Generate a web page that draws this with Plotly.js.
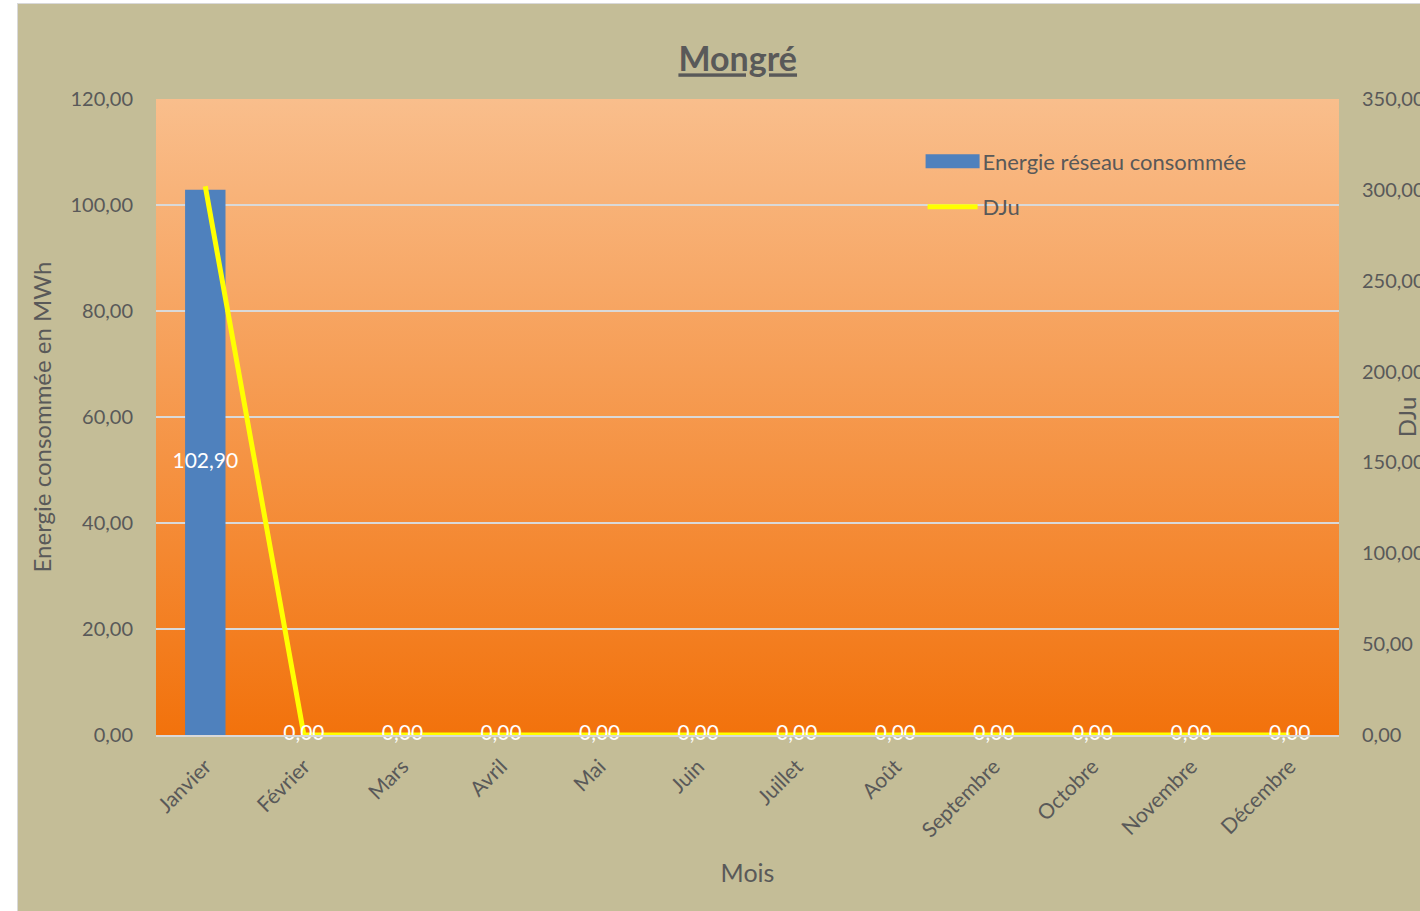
<!DOCTYPE html>
<html>
<head>
<meta charset="utf-8">
<script src="https://cdn.plot.ly/plotly-3.0.1.min.js"></script>
<style>
html,body{margin:0;padding:0;background:#ffffff;width:1420px;height:911px;overflow:hidden;}
#wrap{position:absolute;left:17px;top:3px;width:1403px;height:908px;border-left:1px solid #d9d9d9;border-top:1px solid #d9d9d9;}
#chart{width:1403px;height:908px;}
</style>
</head>
<body>
<div id="wrap"><div id="chart"></div></div>
<script>
const months = ['Janvier','Février','Mars','Avril','Mai','Juin','Juillet','Août','Septembre','Octobre','Novembre','Décembre'];
const energie = [102.90,0,0,0,0,0,0,0,0,0,0,0];
const dju = [302,0,0,0,0,0,0,0,0,0,0,0];
const energieName = 'Energie réseau consommée';
const djuName = 'DJu';

const gradSvg = '<svg xmlns="http://www.w3.org/2000/svg" width="100" height="100" preserveAspectRatio="none">' +
  '<defs><linearGradient id="g" x1="0" y1="0" x2="0" y2="1">' +
  '<stop offset="0" stop-color="#F9BE8C"/><stop offset="1" stop-color="#F2720C"/>' +
  '</linearGradient></defs><rect width="100" height="100" fill="url(#g)"/></svg>';
const gradUri = 'data:image/svg+xml;base64,' + btoa(gradSvg);

const grey = '#595959';
const font = 'Lato, "Open Sans", sans-serif';

const traces = [
  {
    type: 'bar', name: energieName, x: months, y: energie, legendgroup: 'a',
    marker: {color: '#4F81BD'}, xaxis: 'x', yaxis: 'y', hoverinfo: 'skip'
  },
  {
    type: 'scatter', mode: 'lines', name: djuName, x: months, y: dju, legendgroup: 'b',
    line: {color: '#FFFF00', width: 5}, xaxis: 'x', yaxis: 'y2', hoverinfo: 'skip'
  },
  {
    type: 'scatter', mode: 'text', showlegend: false, x: months,
    y: energie.map(v => v / 2), text: energie.map(v => v.toFixed(2).replace('.', ',')),
    textposition: 'middle center', textfont: {color: '#ffffff', size: 21, family: font},
    xaxis: 'x', yaxis: 'y3', hoverinfo: 'skip', cliponaxis: false
  }
];

const layout = {
  width: 1403, height: 908,
  paper_bgcolor: '#C4BD97',
  plot_bgcolor: 'rgba(0,0,0,0)',
  separators: ',.',
  margin: {l: 138, r: 82, t: 95, b: 177},
  bargap: 0.59,
  showlegend: true,
  font: {family: font, color: grey},
  title: {text: '<b><u>Mongré</u></b>', x: 0.513, xanchor: 'center', y: 0.952, yanchor: 'top',
          font: {size: 34, color: grey, family: font}},
  images: [{source: gradUri, xref: 'paper', yref: 'paper', x: 0, y: 1, sizex: 1, sizey: 1,
            xanchor: 'left', yanchor: 'top', sizing: 'stretch', layer: 'below'}],
  xaxis: {
    type: 'category', range: [-0.5, 11.5], autorange: false, tickangle: -45,
    tickfont: {size: 21, color: grey, family: font},
    showgrid: false, showline: true, linecolor: '#d9d9d9', linewidth: 2,
    ticks: 'outside', ticklen: 9, tickcolor: 'rgba(0,0,0,0)',
    title: {text: 'Mois', font: {size: 25, color: grey, family: font}, standoff: 24}
  },
  yaxis: {
    range: [0, 120], dtick: 20, tickformat: '.2f',
    tickfont: {size: 20, color: grey, family: font},
    showgrid: true, gridcolor: '#D9D9D9', gridwidth: 2, zeroline: false,
    ticks: 'outside', ticklen: 18, tickcolor: 'rgba(0,0,0,0)',
    title: {text: 'Energie consommée en MWh', font: {size: 24, color: grey, family: font}, standoff: 12}
  },
  yaxis2: {
    range: [0, 350], dtick: 50, tickformat: '.2f', overlaying: 'y', side: 'right',
    tickfont: {size: 20, color: grey, family: font}, showgrid: false, zeroline: false,
    ticks: 'outside', ticklen: 18, tickcolor: 'rgba(0,0,0,0)',
    title: {text: 'DJu', font: {size: 24, color: grey, family: font}, standoff: 6}
  },
  yaxis3: {range: [0, 120], overlaying: 'y', visible: false},
  legend: {
    x: 0.648, y: 0.935, xanchor: 'left', yanchor: 'top', bgcolor: 'rgba(0,0,0,0)',
    font: {size: 22, color: grey, family: font}, itemwidth: 50, tracegroupgap: 14
  }
};

Plotly.newPlot('chart', traces, layout, {displayModeBar: false, staticPlot: true}).then(function () {
  // widen the bar legend swatch to match the line swatch (Excel-style wide rectangle)
  const items = document.querySelectorAll('#chart .legend .traces');
  let barPath = null, linePath = null;
  items.forEach(function (it) {
    const p = it.querySelector('.legendpoints path.legendundefined, .legendpoints .legendbar path, .legendpoints path');
    const l = it.querySelector('.legendlines path');
    if (l) linePath = l;
    else if (p) barPath = p;
  });
  if (barPath && linePath) {
    const br = barPath.getBoundingClientRect();
    const lr = linePath.getBoundingClientRect();
    const left = -6 + (lr.left - br.left) - 2;
    const w = lr.width + 4;
    barPath.setAttribute('d', 'M' + left + ',-7h' + w + 'v14h' + (-w) + 'z');
  }
});
</script>
</body>
</html>
